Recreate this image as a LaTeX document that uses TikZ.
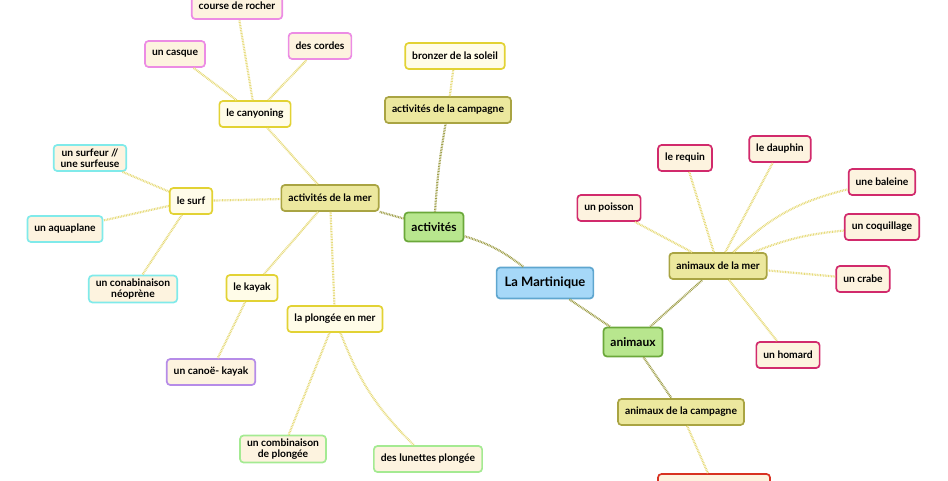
\documentclass[tikz,border=0pt]{standalone}
\usepackage{fontspec}
\setmainfont{Lato}
\usepackage{tikz}
\usetikzlibrary{
    calc,
    positioning
}
\definecolor{rootline}{HTML}{5FA6CF}
\definecolor{rootfill}{HTML}{A6D8F8}
\definecolor{greenline}{HTML}{6BA83A}
\definecolor{greenfill}{HTML}{B8E68E}
\definecolor{oliveline}{HTML}{A9A443}
\definecolor{olivefill}{HTML}{ECE89E}
\definecolor{yellowline}{HTML}{E2D234}
\definecolor{yellowfill}{HTML}{FFFCE8}
\definecolor{leaffill}{HTML}{FDF3DF}
\definecolor{pinkline}{HTML}{EC8CE4}
\definecolor{cyanline}{HTML}{80EAEA}
\definecolor{purpleline}{HTML}{B68CE8}
\definecolor{lightgreenline}{HTML}{A4EA92}
\definecolor{magentaline}{HTML}{D12A6C}
\definecolor{redline}{HTML}{D83222}
\definecolor{darklink}{HTML}{9C9C44}
\definecolor{lightlink}{HTML}{E6DA78}
\tikzset{
    mapbox/.style={draw, rounded corners=3.5pt, line width=1.7pt, align=center,
        font=\bfseries\fontsize{10.3}{11.5}\selectfont, inner xsep=7pt, inner ysep=3pt,
        minimum height=26pt},
    rootbox/.style={mapbox, draw=rootline, fill=rootfill, minimum height=31pt,
        font=\bfseries\fontsize{13}{14}\selectfont, inner xsep=8pt},
    greenbox/.style={mapbox, draw=greenline, fill=greenfill, minimum height=29pt,
        font=\bfseries\fontsize{12}{13}\selectfont},
    olivebox/.style={mapbox, draw=oliveline, fill=olivefill},
    yellowbox/.style={mapbox, draw=yellowline, fill=yellowfill},
    leafbox/.style={mapbox, fill=leaffill},
    darkdots/.style={draw=darklink, line width=2.2pt, dash pattern=on 0.8pt off 0.8pt},
    lightdots/.style={draw=lightlink, line width=2.2pt, dash pattern=on 0.8pt off 0.8pt}
}

\begin{document}
\begin{tikzpicture}[x=1pt,y=-1pt]
        \useasboundingbox (0,0) rectangle (948,480);

        % centre et branches principales
        \draw (545,283) node[rootbox](mart){La Martinique};
        \draw (434,227) node[greenbox](act){activités};
        \draw (633,342) node[greenbox](anim){animaux};

        % activites
        \draw (330,198) node[olivebox](mer){activités de la mer};
        \draw (448,110) node[olivebox](camp){activités de la campagne};
        \draw (455,56) node[yellowbox](bronz){bronzer de la soleil};

        \draw (255,114) node[yellowbox](canyon){le canyoning};
        \draw (191,201) node[yellowbox](surf){le surf};
        \draw (252,288) node[yellowbox](kayak){le kayak};
        \draw (335,319) node[yellowbox](plong){la plongée en mer};

        \draw (237,6) node[leafbox,draw=pinkline](rocher){course de rocher};
        \draw (175,54) node[leafbox,draw=pinkline](casque){un casque};
        \draw (320,46) node[leafbox,draw=pinkline](cordes){des cordes};

        \draw (90,158) node[leafbox,draw=cyanline](surfeur){un surfeur //\\une surfeuse};
        \draw (65,229) node[leafbox,draw=cyanline](aqua){un aquaplane};
        \draw (133,289) node[leafbox,draw=cyanline](neo){un conabinaison\\néoprène};

        \draw (211,372) node[leafbox,draw=purpleline](canoe){un canoë- kayak};

        \draw (283,449) node[leafbox,draw=lightgreenline](combi){un combinaison\\de plongée};
        \draw (428,459) node[leafbox,draw=lightgreenline](lunettes){des lunettes plongée};

        % animaux
        \draw (718,266) node[olivebox](amer){animaux de la mer};
        \draw (681,412) node[olivebox](acamp){animaux de la campagne};
        \draw (714,487) node[leafbox,draw=redline,minimum width=112pt](ferme){};

        \draw (609,208) node[leafbox,draw=magentaline](poisson){un poisson};
        \draw (685,158) node[leafbox,draw=magentaline](requin){le requin};
        \draw (780,149) node[leafbox,draw=magentaline](dauphin){le dauphin};
        \draw (882,182) node[leafbox,draw=magentaline](baleine){une baleine};
        \draw (882,227) node[leafbox,draw=magentaline](coquil){un coquillage};
        \draw (863,279) node[leafbox,draw=magentaline](crabe){un crabe};
        \draw (788,355) node[leafbox,draw=magentaline](homard){un homard};

        % liens
        \draw[darkdots] (mart) to[bend right=10] (act);
        \draw[darkdots] (mart) to (anim);
        \draw[darkdots] (act) to (mer);
        \draw[darkdots] (act) to[bend left=3] (camp);
        \draw[darkdots] (anim) to (amer);
        \draw[darkdots] (anim) to (acamp);

        \draw[lightdots] (camp) to (bronz);
        \draw[lightdots] (mer) to (canyon);
        \draw[lightdots] (mer) to (surf);
        \draw[lightdots] (mer) to (kayak);
        \draw[lightdots] (mer) to (plong);
        \draw[lightdots] (canyon) to (rocher);
        \draw[lightdots] (canyon) to (casque);
        \draw[lightdots] (canyon) to (cordes);
        \draw[lightdots] (surf) to (surfeur);
        \draw[lightdots] (surf) to (aqua);
        \draw[lightdots] (surf) to (neo);
        \draw[lightdots] (kayak) to (canoe);
        \draw[lightdots] (plong) to (combi);
        \draw[lightdots] (plong) to[bend right=12] (lunettes);

        \draw[lightdots] (amer) to (poisson);
        \draw[lightdots] (amer) to (requin);
        \draw[lightdots] (amer) to (dauphin);
        \draw[lightdots] (amer) to[bend left=15] (baleine);
        \draw[lightdots] (amer) to[bend left=8] (coquil);
        \draw[lightdots] (amer) to (crabe);
        \draw[lightdots] (amer) to (homard);
        \draw[lightdots] (acamp) to (ferme);
    \end{tikzpicture}
\end{document}
